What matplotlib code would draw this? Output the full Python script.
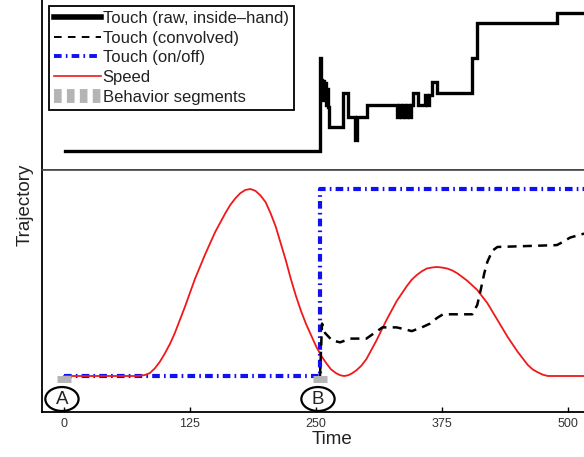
import matplotlib
matplotlib.use('Agg')
import matplotlib.pyplot as plt
from matplotlib.lines import Line2D
from matplotlib.patches import Ellipse

plt.rcParams['font.family'] = ['Liberation Sans', 'DejaVu Sans']
plt.rcParams['lines.scale_dashes'] = False

# --- data -------------------------------------------------------------
# raw touch (inside-hand), step values, top panel
raw_t = [1, 254, 255, 256, 257, 258, 259, 260, 261, 262, 263, 277, 282, 289, 291,
         301, 330, 332, 334, 336, 338, 340, 342, 344, 346, 351, 358, 360, 362,
         365, 370, 405, 410, 489, 553]
raw_v = [0.0, 9.3, 7.1, 5.1, 7.0, 5.2, 6.8, 4.6, 6.2, 4.4, 2.4, 5.8, 3.4, 1.1, 3.4,
         4.6, 3.4, 4.6, 3.4, 4.6, 3.4, 4.6, 3.4, 4.6, 5.8, 4.6, 5.6, 4.6, 5.6,
         6.9, 5.8, 9.3, 12.8, 13.8, 13.8]

# convolved touch
conv_t = [254, 256, 259, 266, 274, 284, 300, 308, 316, 330, 338, 345, 355, 363,
          370, 376, 405, 410, 413, 417, 420, 425, 430, 489, 496, 502, 515, 553]
conv_v = [0.0, 0.28, 0.23, 0.19, 0.18, 0.20, 0.20, 0.23, 0.26, 0.26, 0.25, 0.24,
          0.26, 0.28, 0.31, 0.33, 0.33, 0.38, 0.45, 0.55, 0.61, 0.67, 0.69, 0.70,
          0.72, 0.74, 0.76, 0.78]

# touch on/off
onoff_t = [0, 254, 553]
onoff_v = [0, 1, 1]

# speed
speed_t = [0, 20, 40, 60, 70, 75, 80, 85, 90, 95, 100, 105, 110, 115, 120, 125,
           130, 135, 140, 145, 150, 155, 160, 165, 170, 175, 180, 185, 190, 195,
           200, 205, 210, 215, 220, 225, 230, 235, 240, 245, 250, 255, 260, 265,
           270, 274, 278, 282, 286, 290, 295, 300, 305, 310, 315, 320, 325, 330,
           335, 340, 345, 350, 355, 360, 365, 370, 375, 380, 385, 390, 395, 400,
           405, 410, 415, 420, 425, 430, 435, 440, 445, 450, 455, 460, 465, 470,
           475, 480, 500, 553]
speed_v = [0, 0, 0, 0, 0, 0.001, 0.005, 0.015, 0.04, 0.075, 0.12, 0.17, 0.23,
           0.30, 0.37, 0.445, 0.52, 0.585, 0.65, 0.71, 0.77, 0.82, 0.87, 0.915,
           0.95, 0.978, 0.995, 1.0, 0.99, 0.965, 0.93, 0.87, 0.80, 0.71, 0.62,
           0.52, 0.43, 0.35, 0.28, 0.22, 0.16, 0.11, 0.07, 0.035, 0.015, 0.004,
           0.0, 0.004, 0.015, 0.03, 0.055, 0.09, 0.14, 0.19, 0.245, 0.30, 0.35,
           0.40, 0.44, 0.48, 0.515, 0.54, 0.56, 0.575, 0.58, 0.583, 0.58, 0.575,
           0.565, 0.55, 0.53, 0.51, 0.485, 0.46, 0.425, 0.39, 0.345, 0.30, 0.255,
           0.21, 0.17, 0.13, 0.095, 0.06, 0.035, 0.02, 0.007, 0, 0, 0]

# behavior segment boundaries
seg_t = [0, 254]
seg_names = ['A', 'B']

xticks = [0, 125, 250, 375, 500]

# --- figure -----------------------------------------------------------
fig = plt.figure(figsize=(5.84, 4.57), dpi=100)
L = 42 / 584
W = (622 - 42) / 584
ax_top = fig.add_axes([L, 287 / 457, W, 170 / 457])
ax = fig.add_axes([L, 45 / 457, W, 242 / 457])

for a in (ax_top, ax):
    a.set_xlim(-21.8, 553.6)
    a.set_yticks([])
    a.spines['right'].set_visible(False)
    a.spines['left'].set_linewidth(1.3)

ax_top.spines['top'].set_visible(False)
ax_top.spines['bottom'].set_color('#444444')
ax_top.spines['bottom'].set_linewidth(1.2)
ax_top.set_xticks([])
ax_top.set_ylim(-1.9, 15.1)

ax.spines['top'].set_color('#444444')
ax.spines['top'].set_linewidth(1.2)
ax.spines['bottom'].set_linewidth(1.3)
ax.set_ylim(-0.1925, 1.1016)
ax.set_xticks(xticks)
ax.tick_params(axis='x', direction='in', length=3.5, width=1, labelsize=9,
               pad=4, labelcolor='#333333')

# top panel: raw touch
ax_top.plot(raw_t, raw_v, color='black', lw=2.4, drawstyle='steps-post',
            solid_joinstyle='miter')

# bottom panel
blue = '#1010f0'
ax.plot(onoff_t, onoff_v, color=blue, lw=3.0, drawstyle='steps-post',
        dashes=(5.5, 3.0, 1.2, 3.0), zorder=2)
ax.plot(speed_t, speed_v, color='#f01818', lw=1.3, zorder=3)
ax.plot(conv_t, conv_v, color='black', lw=1.8, dashes=(6.5, 4.5), zorder=4)
ax.plot(seg_t, [-0.015] * len(seg_t), ls='none', marker='_', ms=9.5, mew=5,
        color='#b4b4b4', zorder=5, clip_on=False)

for t, name in zip(seg_t, seg_names):
    ax.add_patch(Ellipse((t - 2, -0.123), 33, 0.128, fill=False, lw=1.6,
                         ec='black', zorder=6, clip_on=False))
    ax.text(t - 2, -0.123, name, ha='center', va='center', fontsize=13.5,
            color='#222222', zorder=7)

ax.set_xlabel('Time', fontsize=13.5, labelpad=1, color='#222222')
fig.text(25 / 584, 1 - 205 / 457, 'Trajectory', rotation=90, ha='center',
         va='center', fontsize=13.5, color='#222222')

# legend
handles = [
    Line2D([], [], color='black', lw=4),
    Line2D([], [], color='black', lw=1.4, dashes=(5.5, 4.5)),
    Line2D([], [], color=blue, lw=2.8, dashes=(5.5, 3.0, 1.2, 3.0)),
    Line2D([], [], color='#f01818', lw=1.2),
    Line2D([], [], color='#b4b4b4', lw=10, dashes=(5.5, 3.8)),
]
labels = ['Touch (raw, inside\u2013hand)', 'Touch (convolved)', 'Touch (on/off)',
          'Speed', 'Behavior segments']
leg = ax_top.legend(handles, labels, loc='upper left',
                    bbox_to_anchor=(49 / 584, 1 - 6 / 457),
                    bbox_transform=fig.transFigure, borderaxespad=0,
                    fontsize=12, handlelength=2.8, handletextpad=0.12,
                    labelspacing=0.28, borderpad=0.3, fancybox=False,
                    framealpha=1, edgecolor='black')
leg.get_frame().set_linewidth(1.3)
for txt in leg.get_texts():
    txt.set_color('#222222')

fig.savefig('out.png', dpi=100)
